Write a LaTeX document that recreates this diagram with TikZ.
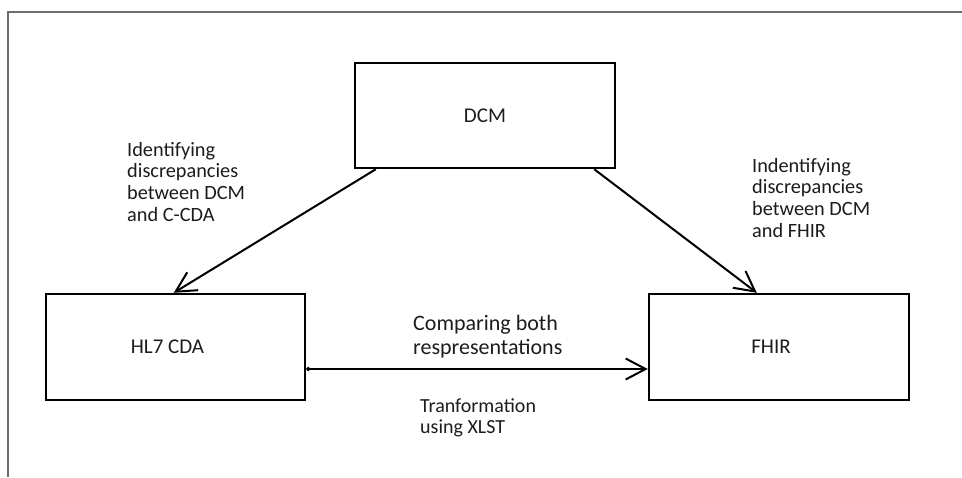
\documentclass[tikz,border=0pt]{standalone}
\usepackage{fontspec}
\setmainfont{Carlito}
\usetikzlibrary{arrows.meta,calc}
\definecolor{framegray}{HTML}{6D6D6D}
\definecolor{txt}{HTML}{1C1C1C}
\tikzset{
  box/.style={draw=black, line width=2.4pt, fill=white, inner sep=0pt, text=txt,
    font=\fontsize{21}{24}\selectfont},
  lbl/.style={anchor=north west, align=left, inner sep=0pt, text=txt,
    font=\fontsize{20.3}{21.7}\selectfont},
  conn/.style={draw=black, line width=2pt, -{Straight Barb[length=20pt,width=21pt,line width=2pt]}},
}
\begin{document}
\begin{tikzpicture}[x=1pt,y=-1pt]
\useasboundingbox (0,0) rectangle (962,477);
% outer frame (top and left edges only)
\draw[framegray, line width=1.6pt] (962,12) -- (8,12) -- (8,477);
% boxes
\node[box, minimum width=260pt, minimum height=105pt] (dcm) at (485,115.5) {DCM};
\node[box, minimum width=259pt, minimum height=106pt] (hl7) at (175.5,347) {\hspace*{-16pt}HL7 CDA};
\node[box, minimum width=260pt, minimum height=106pt] (fhir) at (779,347) {\hspace*{-16pt}FHIR};
% connectors
\draw[conn] ($(dcm.south west)+(22,0)$) -- ($(hl7.north west)+(129,0)$);
\draw[conn] ($(dcm.south east)+(-22,0)$) -- ($(fhir.north west)+(109,0)$);
\draw[conn, {Circle[length=4pt]}-{Straight Barb[length=20pt,width=21pt,line width=2pt]}]
  ($(hl7.east)+(0,22)$) -- ($(fhir.west)+(0,22)$);
% labels
\node[lbl] (l1) at (127,142) {Identifying\\discrepancies\\between DCM\\and C-CDA};
\node[lbl] (l2) at (752,158) {Indentifying\\discrepancies\\between DCM\\and FHIR};
\node[lbl, font=\fontsize{22}{24.5}\selectfont] (l3) at (413,315) {Comparing both\\respresentations};
\node[lbl, font=\fontsize{20}{21}\selectfont] (l4) at (420,398) {Tranformation\\using XLST};
\end{tikzpicture}
\end{document}
